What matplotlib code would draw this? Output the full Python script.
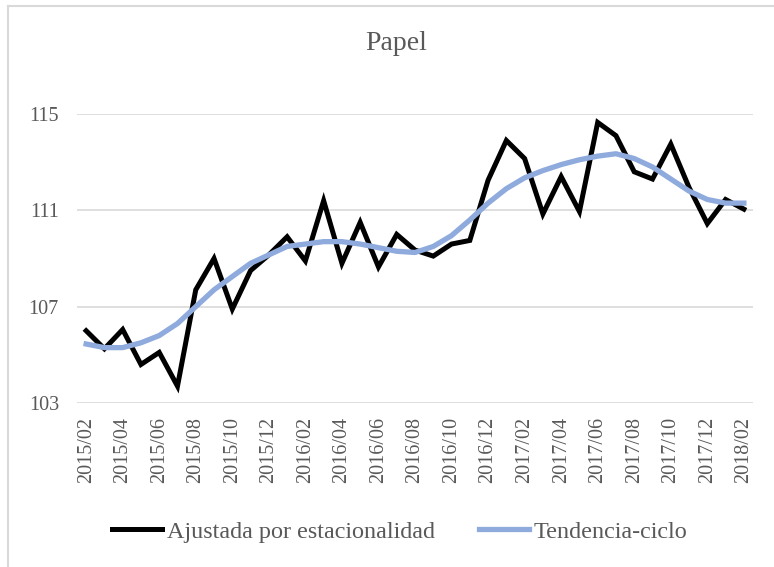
import numpy as np
import matplotlib.pyplot as plt
from matplotlib.lines import Line2D

months = [f"{y}/{m:02d}" for y in (2015, 2016, 2017, 2018) for m in range(1, 13)]
months = months[1:38]  # 2015/02 .. 2018/02

ajustada = [106.0, 105.25, 106.05, 104.6, 105.1, 103.7, 107.7, 109.0, 106.9, 108.5,
            109.15, 109.9, 108.9, 111.4, 108.8, 110.5, 108.65, 110.0, 109.35, 109.1,
            109.6, 109.75, 112.25, 113.9, 113.15, 110.85, 112.4, 110.95, 114.65, 114.1,
            112.6, 112.3, 113.75, 111.95, 110.45, 111.45, 111.05]
tendencia = [105.45, 105.3, 105.3, 105.5, 105.8, 106.3, 107.0, 107.7, 108.25, 108.8,
             109.15, 109.5, 109.6, 109.7, 109.7, 109.6, 109.45, 109.3, 109.25, 109.5,
             109.95, 110.6, 111.3, 111.9, 112.35, 112.65, 112.9, 113.1, 113.25, 113.35,
             113.15, 112.8, 112.3, 111.8, 111.45, 111.3, 111.3]

plt.rcParams['font.family'] = ['Liberation Serif', 'DejaVu Serif']
gray = '#595959'

fig = plt.figure(figsize=(7.74, 5.67), dpi=100)
ax = fig.add_axes([77/774, 1-403/567, (753-77)/774, (403-114)/567])

x = np.arange(len(months))
ax.plot(x, ajustada, color='black', lw=3.6, solid_joinstyle='miter', label='Ajustada por estacionalidad', zorder=3)
ax.plot(x, tendencia, color='#8faadc', lw=3.8, label='Tendencia-ciclo', zorder=4)

ax.set_xlim(-0.5, len(months) - 0.5)
ax.set_ylim(103, 115)
ax.set_yticks([103, 107, 111, 115])
ax.set_xticks(x[::2])
ax.set_xticklabels(months[::2], rotation=90)
ax.tick_params(axis='both', length=0, labelsize=14.5, labelcolor=gray)
ax.tick_params(axis='y', pad=13)
ax.tick_params(axis='x', pad=10)
ax.grid(axis='y', color='#d9d9d9', lw=1.2)
ax.set_axisbelow(True)
for s in ax.spines.values():
    s.set_visible(False)

fig.text(396/774, 1-43/567, 'Papel', ha='center', va='center', fontsize=20, color=gray)

fig.legend(loc='center', bbox_to_anchor=(400/774, 1-532/567), ncol=2, frameon=False,
           fontsize=17.4, labelcolor=gray, handlelength=2.05, handletextpad=0.2,
           columnspacing=1.85)

# chart border
fig.add_artist(Line2D([7.5/774, 7.5/774], [0, 1-6/567], color='#d9d9d9', lw=1.5))
fig.add_artist(Line2D([7.5/774, 1], [1-6/567, 1-6/567], color='#d9d9d9', lw=1.5))

fig.savefig('out.png', dpi=100)
